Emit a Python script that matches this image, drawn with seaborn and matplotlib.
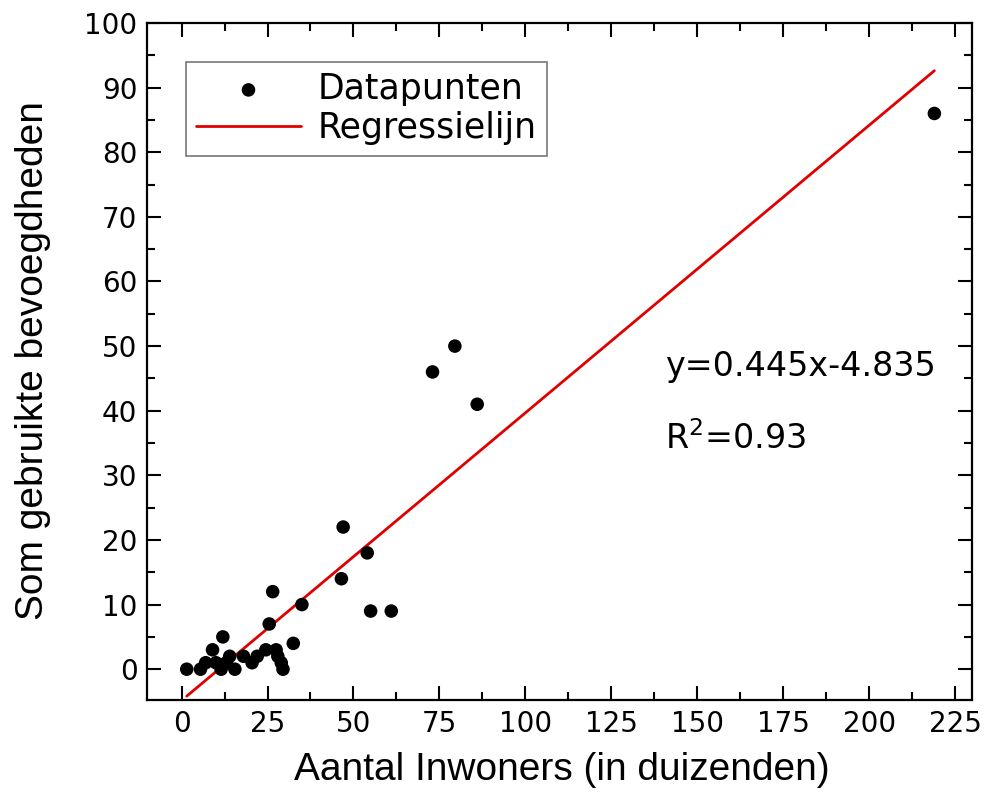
import numpy as np
import pandas as pd
import matplotlib
matplotlib.use("Agg")
import matplotlib.pyplot as plt
import seaborn as sns
from matplotlib.ticker import MultipleLocator

# inwoners (in duizenden) en som gebruikte bevoegdheden
inwoners = [1.5, 5.5, 7, 9, 10, 11.5, 12, 13, 14, 15.5, 18, 20.5, 22, 24.5, 25.5,
            26.5, 27.5, 28, 29, 29.5, 32.5, 35, 46.5, 47, 54, 55, 61, 73, 79.5, 86, 219]
bevoegdheden = [0, 0, 1, 3, 1, 0, 5, 1, 2, 0, 2, 1, 2, 3, 7,
                12, 3, 2, 1, 0, 4, 10, 14, 22, 18, 9, 9, 46, 50, 41, 86]
slope = 0.445
intercept = -4.835
r2 = 0.93

sns.set_theme(style="ticks")
plt.rcParams["font.family"] = ["DejaVu Sans"]
plt.rcParams["text.color"] = "black"
plt.rcParams["axes.labelcolor"] = "black"
label_font = ["Liberation Sans", "DejaVu Sans"]

df = pd.DataFrame({"x": inwoners, "y": bevoegdheden})
x_fit = np.array([min(inwoners), max(inwoners)])
fit = pd.DataFrame({"x": x_fit, "y": slope * x_fit + intercept})

fig = plt.figure(figsize=(9.88, 7.93), dpi=100)
ax = fig.add_axes([0.149, 0.117, 0.835, 0.854])

sns.scatterplot(data=df, x="x", y="y", ax=ax, color="black", s=95,
                edgecolor="none", label="Datapunten", zorder=3)
sns.lineplot(data=fit, x="x", y="y", ax=ax, color="#e00000", linewidth=2,
             label="Regressielijn", zorder=2)

ax.set_xlim(-10, 230)
ax.set_ylim(-4.8, 100)
ax.xaxis.set_major_locator(MultipleLocator(25))
ax.xaxis.set_minor_locator(MultipleLocator(12.5))
ax.yaxis.set_major_locator(MultipleLocator(10))
ax.yaxis.set_minor_locator(MultipleLocator(5))
ax.tick_params(which="both", direction="in", top=True, right=True, width=1.5,
               labelsize=20, color="black", labelcolor="black")
ax.tick_params(which="major", length=10, pad=7)
ax.tick_params(which="minor", length=6)
for sp in ax.spines.values():
    sp.set_linewidth(1.6)
    sp.set_color("black")

ax.set_xlabel("Aantal Inwoners (in duizenden)", fontsize=28, family=label_font,
              va="center")
ax.set_ylabel("Som gebruikte bevoegdheden", fontsize=28, family=label_font,
              va="center")
ax.xaxis.set_label_coords(0.502, -0.103)
ax.yaxis.set_label_coords(-0.139, 0.502)

ax.text(140.5, 46.9, f"y={slope}x{intercept}", fontsize=24, va="center")
ax.text(140.5, 35.7, f"R$^2$={r2}", fontsize=24, va="center")

leg = ax.legend(loc="upper left", bbox_to_anchor=(0.047, 0.943), fontsize=25,
                frameon=True, fancybox=False, edgecolor="#555555",
                handlelength=3.0, borderpad=0.3, labelspacing=0.15,
                handletextpad=0.5, markerscale=1.0, borderaxespad=0)
leg.get_frame().set_linewidth(1.2)
for t in leg.get_texts():
    t.set_color("black")

fig.savefig("out.png", dpi=100)
